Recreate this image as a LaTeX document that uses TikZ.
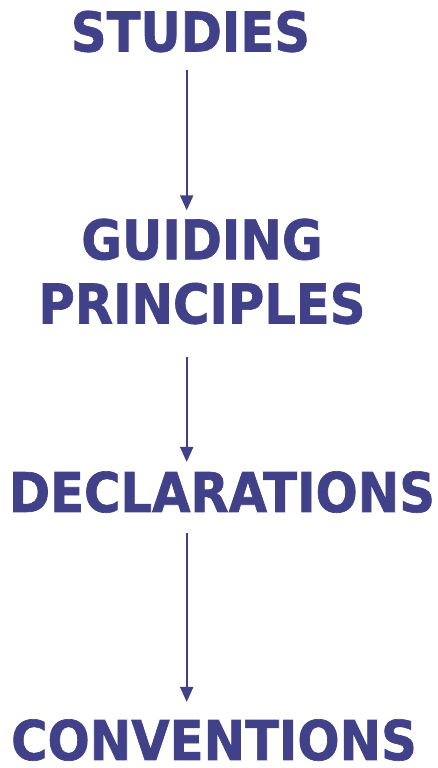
\documentclass[tikz,border=0pt]{standalone}
\usepackage{fontspec}
\usepackage{tikz}
\usetikzlibrary{arrows.meta}
\newfontfamily\stagefont{DejaVu Sans Bold}[FakeStretch=0.905, FakeBold=1.2]
\definecolor{stageblue}{RGB}{65,65,137}
\tikzset{
  stage/.style = {text = stageblue, inner sep = 0pt,
    font = \stagefont\fontsize{31.2}{36.5}\selectfont},
  flow/.style = {draw = stageblue, line width = 0.04cm,
    -{Triangle[length = 0.3cm, width = 0.26cm]}}
}

\begin{document}
\begin{tikzpicture} [scale = 1]
\useasboundingbox (0.0, 0.0) rectangle (8.76, 15.36);
\coordinate (axis) at (3.734, 0.0);
\node[stage, anchor = base] (studies) at (3.81, 14.33){STUDIES};
\node[stage, align = center] (principles) at (4.04, 9.93){GUIDING\\PRINCIPLES};
\node[stage, anchor = base] (declarations) at (4.44, 5.12){DECLARATIONS};
\node[stage, anchor = base] (conventions) at (4.28, 0.16){CONVENTIONS};
\draw[flow, shorten <= 0.34cm, shorten >= 0.16cm] (studies.south -| axis) -- (principles.north -| axis);
\draw[flow, shorten <= 0.64cm, shorten >= 0.18cm] (principles.south -| axis) -- (declarations.north -| axis);
\draw[flow, shorten <= 0.40cm, shorten >= 0.34cm] (declarations.south -| axis) -- (conventions.north -| axis);
\end{tikzpicture}
\end{document}
